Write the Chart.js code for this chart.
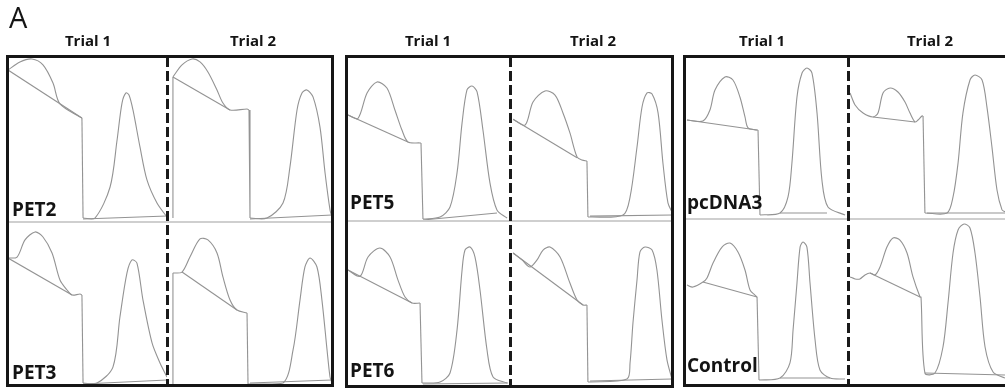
<!DOCTYPE html>
<html>
<head>
<meta charset="utf-8">
<script src="https://cdn.jsdelivr.net/npm/chart.js@4/dist/chart.umd.min.js"></script>
<style>
html,body{margin:0;padding:0;background:#fff;width:1005px;height:388px;overflow:hidden;position:relative;font-family:'Open Sans',sans-serif;}
canvas{position:absolute;}
.panel{position:absolute;border:3px solid #161616;box-sizing:border-box;}
.sep{position:absolute;height:2px;background:#cfcfcf;}
.dash{position:absolute;width:3px;background:repeating-linear-gradient(to bottom,#1a1a1a 0px,#1a1a1a 10px,transparent 10px,transparent 14px);}
.txt{position:absolute;line-height:1;white-space:nowrap;color:#141414;}
.letter{font-size:29px;font-weight:400;}
.trial{font-weight:700;font-size:15px;width:90px;text-align:center;}
.lab{font-weight:700;font-size:19px;}
</style>
</head>
<body>
<script>
// ---------------- text ----------------
const panelLetter = 'A';
const trialLabels = ['Trial 1', 'Trial 2'];
const sampleLabels = ['PET2', 'PET3', 'PET5', 'PET6', 'pcDNA3', 'Control'];

// ---------------- data (x = relative fluorescence 0-100, y = relative count 0-100) ----------------
// main histogram trace, gate line, baseline for each sample / trial
const pet2T1Curve = [[0,92.1],[7.5,97.0],[15.1,98.8],[22.0,95.2],[28.3,84.2],[32.7,71.6],[46.5,63.0],[47.2,2.4],[54.7,2.4],[64.2,21.2],[68.6,49.7],[71.7,72.1],[74.2,78.2],[76.1,77.0],[78.6,67.9],[83.0,45.5],[87.4,25.5],[93.7,11.5],[100,3.0]];
const pet2T1Gate  = [[0,92.1],[46.5,63.0]];
const pet2T1Base  = [[47.2,1.8],[100,3.6]];

const pet2T2Curve = [[3.6,2.4],[3.6,87.9],[9.1,95.2],[15.2,98.8],[20.0,97.0],[24.8,90.9],[30.3,80.0],[33.9,72.1],[38.2,67.9],[48.5,68.5],[49.7,67.9],[50.3,2.4],[60.6,2.4],[70.3,11.5],[74.5,33.3],[78.8,67.9],[81.8,78.2],[84.8,80.0],[88.5,75.8],[92.7,57.6],[95.8,29.7],[98.8,7.3],[100,3.0]];
const pet2T2Gate  = [[3.6,87.9],[38.2,67.9]];
const pet2T2Base  = [[50.3,1.8],[100,4.2]];

const pet3T1Curve = [[0,77.9],[5.7,78.5],[10.7,89.0],[17.0,93.9],[22.0,90.8],[27.7,81.0],[32.7,64.4],[37.1,58.3],[40.3,55.2],[45.3,55.8],[46.5,55.2],[47.2,1.2],[56.0,1.2],[66.0,11.0],[70.4,41.7],[74.8,68.7],[78.0,76.7],[81.1,74.8],[84.9,52.1],[90.6,25.8],[95.6,13.5],[100,4.9]];
const pet3T1Gate  = [[0,77.9],[40.3,55.2]];
const pet3T1Base  = [[47.2,0.6],[100,3.1]];

const pet3T2Curve = [[3.6,0.6],[3.6,68.7],[9.1,69.3],[13.9,78.5],[20.0,89.6],[24.8,89.0],[30.3,81.0],[33.9,66.3],[38.2,52.1],[42.4,46.0],[48.5,44.2],[49.1,0.6],[70.3,1.2],[76.4,21.5],[80.6,52.1],[83.6,72.4],[86.7,77.9],[90.9,72.4],[93.9,52.1],[97.0,21.5],[98.8,4.9],[100,1.2]];
const pet3T2Gate  = [[9.1,69.3],[42.4,46.0]];
const pet3T2Base  = [[50.3,1.2],[100,3.1]];

const pet5T1Curve = [[0.6,64.6],[6.7,62.5],[12.3,78.1],[18.4,84.8],[24.5,81.1],[29.4,67.7],[33.7,55.5],[37.4,48.2],[44.8,47.6],[45.4,47.6],[46.6,1.2],[57.1,2.4],[63.2,8.5],[67.5,29.3],[70.6,59.8],[73.6,79.9],[76.7,82.3],[79.8,78.7],[83.4,55.5],[87.7,23.2],[92.0,6.7],[98.2,1.8]];
const pet5T1Gate  = [[0.6,64.6],[37.4,48.2]];
const pet5T1Base  = [[46.6,0.6],[92.0,4.9]];

const pet5T2Curve = [[1.9,62.0],[9.3,58.5],[14.2,72.6],[21.6,79.3],[27.8,76.8],[32.7,65.9],[37.0,53.7],[41.4,39.0],[44.4,37.2],[47.5,36.6],[48.1,2.4],[69.8,3.7],[74.1,14.6],[78.4,45.1],[81.5,69.5],[84.6,78.1],[87.7,77.4],[91.4,65.9],[94.4,35.4],[97.5,11.0],[100,5.5]];
const pet5T2Gate  = [[1.9,62.0],[41.4,38.6]];
const pet5T2Base  = [[49.4,3.0],[100,3.7]];

const pet6T1Curve = [[0.6,70.3],[8.0,66.5],[12.9,78.2],[20.2,83.6],[26.4,78.2],[31.3,64.2],[35.6,53.9],[39.9,50.3],[44.8,50.3],[46.0,1.8],[57.1,2.4],[63.2,7.9],[67.5,33.9],[70.6,70.3],[72.4,82.4],[75.5,84.2],[78.5,78.2],[81.6,58.2],[85.9,21.8],[89.6,5.5],[98.2,1.8]];
const pet6T1Gate  = [[0.6,70.3],[39.9,50.3]];
const pet6T1Base  = [[46.6,1.2],[98.8,1.8]];

const pet6T2Curve = [[1.9,80.6],[7.4,76.4],[12.3,72.1],[16.7,76.4],[20.4,82.4],[24.7,84.2],[30.9,78.2],[37.0,62.4],[41.4,52.1],[45.1,49.1],[47.5,49.1],[48.1,2.4],[72.2,4.2],[74.1,13.9],[75.9,38.2],[78.4,64.2],[80.2,81.2],[83.3,84.2],[87.7,82.4],[90.7,70.3],[93.8,40.0],[96.9,15.8],[100,4.2]];
const pet6T2Gate  = [[1.9,80.6],[45.1,49.1]];
const pet6T2Base  = [[49.4,3.0],[100,4.2]];

const pcT1Curve = [[1.2,61.1],[11.0,60.5],[15.3,67.3],[18.4,79.6],[24.5,87.7],[29.4,85.8],[33.7,75.3],[36.8,63.0],[38.7,56.2],[44.2,54.9],[44.8,54.9],[46.0,2.5],[58.3,3.7],[63.2,13.6],[65.6,34.6],[68.7,75.3],[71.8,90.1],[74.8,93.2],[77.9,90.1],[81.0,65.4],[84.0,24.1],[87.7,7.4],[98.2,2.5]];
const pcT1Gate  = [[1.2,61.1],[44.2,54.9]];
const pcT1Base  = [[58.3,3.7],[87.1,3.7]];

const pcT2Curve = [[1.3,77.8],[4.5,70.4],[9.6,65.4],[15.9,63.0],[19.1,65.4],[22.3,77.8],[26.8,80.9],[31.8,78.4],[36.3,72.2],[39.5,65.4],[42.7,59.9],[44.6,61.1],[47.1,63.6],[47.8,63.6],[49.0,3.7],[63.1,3.7],[66.9,13.6],[70.1,34.6],[73.2,65.4],[77.7,85.8],[80.9,88.9],[85.4,85.8],[88.5,69.1],[91.7,44.4],[94.9,17.9],[98.1,5.6],[100,4.5]];
const pcT2Gate  = [[15.9,63.0],[42.7,59.9]];
const pcT2Base  = [[50.3,3.7],[100,3.7]];

const ctrlT1Curve = [[1.2,60.2],[4.9,59.0],[11.0,62.0],[13.5,64.5],[17.2,73.5],[22.7,83.1],[27.6,85.5],[32.5,80.1],[36.8,69.3],[39.9,57.2],[42.9,54.2],[44.2,53.0],[45.4,3.0],[58.3,4.2],[64.4,13.3],[66.3,33.1],[68.7,61.4],[70.6,83.1],[72.4,86.1],[74.8,83.1],[76.7,61.4],[79.8,27.1],[82.8,9.0],[89.0,4.2],[98.2,3.6]];
const ctrlT1Gate  = [[11.0,62.0],[44.2,53.0]];
const ctrlT1Base  = [[58.3,4.2],[89.0,4.2]];

const ctrlT2Curve = [[1.3,65.1],[4.5,63.9],[7.6,63.9],[10.8,66.3],[14.0,67.5],[17.2,66.3],[20.4,71.1],[24.8,83.1],[28.7,88.6],[33.1,87.3],[37.6,79.5],[41.4,65.1],[45.9,53.0],[46.5,53.0],[49.0,7.2],[55.4,7.2],[60.5,22.9],[63.7,49.4],[66.9,79.5],[70.1,93.4],[73.9,97.0],[77.7,94.6],[80.9,79.5],[84.1,53.0],[87.3,22.9],[92.4,7.8],[100,4.2]];
const ctrlT2Gate  = [[14.0,67.5],[45.9,53.0]];
const ctrlT2Base  = [[49.0,7.2],[100,6.0]];

// ---------------- layout (page geometry only) ----------------
const panels = [
  {left: 8,   mid: 167, right: 332,  top: 57, sep: 222, bottom: 385, titleX: [88, 253],  labX: 12,  labTop: [200, 363], rows: [0, 1]},
  {left: 347, mid: 510, right: 672,  top: 57, sep: 221, bottom: 386, titleX: [428, 593], labX: 350, labTop: [193, 361], rows: [2, 3]},
  {left: 685, mid: 848, right: 1005, top: 57, sep: 219, bottom: 385, titleX: [762, 930], labX: 687, labTop: [193, 356], rows: [4, 5]}
];
const seriesBySample = [
  [[pet2T1Curve, pet2T1Gate, pet2T1Base], [pet2T2Curve, pet2T2Gate, pet2T2Base]],
  [[pet3T1Curve, pet3T1Gate, pet3T1Base], [pet3T2Curve, pet3T2Gate, pet3T2Base]],
  [[pet5T1Curve, pet5T1Gate, pet5T1Base], [pet5T2Curve, pet5T2Gate, pet5T2Base]],
  [[pet6T1Curve, pet6T1Gate, pet6T1Base], [pet6T2Curve, pet6T2Gate, pet6T2Base]],
  [[pcT1Curve, pcT1Gate, pcT1Base], [pcT2Curve, pcT2Gate, pcT2Base]],
  [[ctrlT1Curve, ctrlT1Gate, ctrlT1Base], [ctrlT2Curve, ctrlT2Gate, ctrlT2Base]]
];
const lineColor = '#939393';

function el(cls, css, text) {
  const d = document.createElement('div');
  d.className = cls;
  Object.assign(d.style, css);
  if (text !== undefined) d.textContent = text;
  document.body.appendChild(d);
  return d;
}

// split a trace at its vertical drops so smooth parts can be drawn with tension
function splitTrace(pts) {
  const parts = [];
  let run = [pts[0]];
  for (let i = 1; i < pts.length; i++) {
    const a = pts[i - 1], b = pts[i];
    const vertical = Math.abs(b[0] - a[0]) < 1.6 && Math.abs(b[1] - a[1]) > 15;
    if (vertical) {
      if (run.length > 1) parts.push({pts: run, smooth: true});
      parts.push({pts: [a, b], smooth: false});
      run = [b];
    } else {
      run.push(b);
    }
  }
  if (run.length > 1) parts.push({pts: run, smooth: true});
  return parts;
}

function drawCell(x, y, w, h, sets) {
  const c = document.createElement('canvas');
  c.width = w; c.height = h;
  c.style.left = x + 'px'; c.style.top = y + 'px';
  document.body.appendChild(c);
  const style = {borderColor: lineColor, borderWidth: 1.1, pointRadius: 0, fill: false, clip: false};
  const datasets = [];
  splitTrace(sets[0]).forEach(p => datasets.push(Object.assign({}, style, {data: p.pts, tension: p.smooth ? 0.3 : 0})));
  datasets.push(Object.assign({}, style, {data: sets[1], tension: 0}));
  datasets.push(Object.assign({}, style, {data: sets[2], tension: 0}));
  new Chart(c, {
    type: 'line',
    data: {datasets: datasets},
    options: {
      responsive: false, animation: false, events: [],
      layout: {padding: 0},
      plugins: {legend: {display: false}, tooltip: {enabled: false}, title: {display: false}},
      scales: {
        x: {type: 'linear', min: 0, max: 100, display: false},
        y: {type: 'linear', min: 0, max: 100, display: false}
      }
    }
  });
}

panels.forEach(p => {
  const rowsY = [[p.top, p.sep], [p.sep, p.bottom]];
  const colsX = [[p.left, p.mid], [p.mid, p.right]];
  p.rows.forEach((sample, r) => {
    colsX.forEach((cx, t) => {
      drawCell(cx[0], rowsY[r][0], cx[1] - cx[0], rowsY[r][1] - rowsY[r][0], seriesBySample[sample][t]);
    });
  });
  el('sep', {left: p.left + 'px', top: (p.sep - 1) + 'px', width: (p.right - p.left) + 'px'});
  el('dash', {left: (p.mid - 1) + 'px', top: p.top + 'px', height: (p.bottom - p.top) + 'px'});
  el('panel', {left: (p.left - 2) + 'px', top: (p.top - 2) + 'px',
               width: (p.right - p.left + (p.right >= 1005 ? 12 : 4)) + 'px', height: (p.bottom - p.top + 4) + 'px'});
  trialLabels.forEach((t, i) => el('txt trial', {left: (p.titleX[i] - 45) + 'px', top: '33px'}, t));
  p.rows.forEach((sample, r) => el('txt lab', {left: p.labX + 'px', top: p.labTop[r] + 'px'}, sampleLabels[sample]));
});
el('txt letter', {left: '9px', top: '2px'}, panelLetter);
</script>
</body>
</html>
